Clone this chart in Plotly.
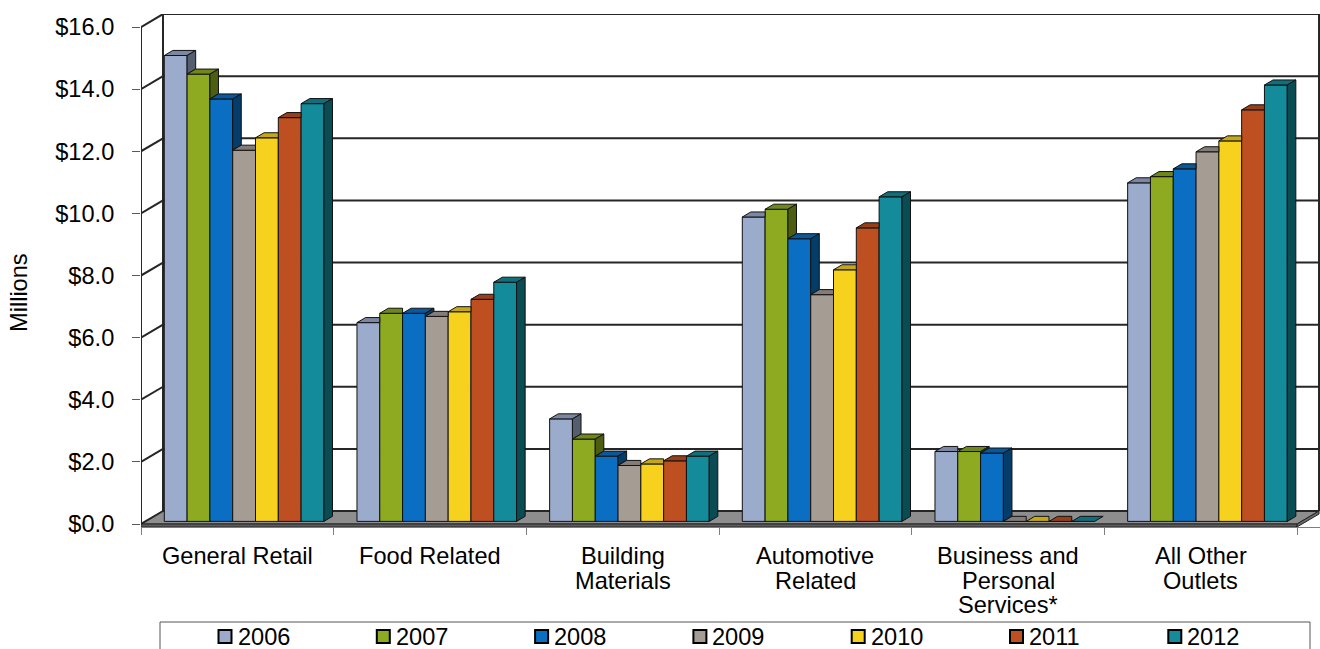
import plotly.graph_objects as go

# ---- data (millions of dollars) ----
label_lines = [
    ["General Retail"],
    ["Food Related"],
    ["Building", "Materials"],
    ["Automotive", "Related"],
    ["Business and", "Personal", "Services*"],
    ["All Other", "Outlets"],
]
years = ["2006", "2007", "2008", "2009", "2010", "2011", "2012"]

sales_2006 = [15.0, 6.4, 3.3, 9.8, 2.25, 10.9]
sales_2007 = [14.4, 6.7, 2.65, 10.05, 2.25, 11.1]
sales_2008 = [13.6, 6.7, 2.1, 9.1, 2.2, 11.35]
sales_2009 = [11.95, 6.6, 1.8, 7.3, 0.0, 11.9]
sales_2010 = [12.35, 6.75, 1.85, 8.1, 0.0, 12.25]
sales_2011 = [13.0, 7.15, 1.95, 9.45, 0.0, 13.25]
sales_2012 = [13.45, 7.7, 2.1, 10.45, 0.0, 14.05]
series = [sales_2006, sales_2007, sales_2008, sales_2009,
          sales_2010, sales_2011, sales_2012]

colors = ["#9BABCB", "#8DAA20", "#0A6FC2", "#A59C94",
          "#F6D21E", "#BD4F20", "#138B9A"]

y_ticks = [0, 2, 4, 6, 8, 10, 12, 14, 16]
y_tick_labels = ["$0.0", "$2.0", "$4.0", "$6.0", "$8.0",
                 "$10.0", "$12.0", "$14.0", "$16.0"]

# ---- page geometry ----
W, H = 1320, 649
L, R, T, B = 141, 0, 14, 122
PW, PH = W - L - R, H - T - B
CAT_PX = 192.67          # pixels per category on the front plane
UNIT_PX = 31.06          # pixels per $1M
ZERO_PX = 524            # pixel row of $0 on the front plane

x_range = [0, PW / CAT_PX]
y_range = [(ZERO_PX - (T + PH)) / UNIT_PX, (ZERO_PX - T) / UNIT_PX]

# oblique depth of the chart box (front plane -> back wall)
DX = 22 / CAT_PX
DY = 13 / UNIT_PX
FLOOR_TH = -y_range[0]

# column layout inside a category
PITCH = 22.8 / CAT_PX
START = 18.9 / CAT_PX
BAR_F = 0.2              # depth of column front face
BAR_D = 0.39             # column depth
SX, BASE = BAR_F * DX, BAR_F * DY
AX, AY = BAR_D * DX, BAR_D * DY
N_CAT = len(label_lines)
TOP_V = y_ticks[-1]


def shade(hex_color, k):
    r, g, b = (int(hex_color[i:i + 2], 16) for i in (1, 3, 5))
    return "#%02x%02x%02x" % (int(r * k), int(g * k), int(b * k))


def px_x(p):
    return (p - L) / PW


def px_y(p):
    return (T + PH - p) / PH


fig = go.Figure()
shapes = []


def line(x0, y0, x1, y1, color="#262626", width=2):
    shapes.append(dict(type="line", x0=x0, y0=y0, x1=x1, y1=y1,
                       xref="x", yref="y", layer="below",
                       line=dict(color=color, width=width)))


def poly(pts, fill, color="#262626", width=1):
    path = "M " + " L ".join(f"{x},{y}" for x, y in pts) + " Z"
    shapes.append(dict(type="path", path=path, xref="x", yref="y",
                       layer="below", fillcolor=fill,
                       line=dict(color=color, width=width)))


# floor (top surface, front edge, right edge)
poly([(0, 0), (N_CAT, 0), (N_CAT + DX, DY), (DX, DY)], "#8e8e8e")
poly([(0, -FLOOR_TH), (N_CAT, -FLOOR_TH), (N_CAT, 0), (0, 0)], "#5c5c5c")
poly([(N_CAT, -FLOOR_TH), (N_CAT, 0), (N_CAT + DX, DY),
      (N_CAT + DX, DY - FLOOR_TH)], "#6a6a6a")

# walls: gridlines on the back wall and the left wall
for v in y_ticks:
    line(0, v, DX, v + DY)
    line(DX, v + DY, N_CAT + DX, v + DY)
line(0, 0, 0, TOP_V, width=2)
line(DX, DY, DX, TOP_V + DY, width=2)
line(N_CAT + DX, DY, N_CAT + DX, TOP_V + DY, width=2)

# columns: front faces as bars, top and side faces as filled outlines
for j, (year, vals, col) in enumerate(zip(years, series, colors)):
    xs = [i + START + SX + (j + 0.5) * PITCH for i in range(N_CAT)]
    fig.add_trace(go.Bar(
        x=xs, y=vals, base=BASE, width=PITCH, name=year,
        marker=dict(color=col, line=dict(color="#111111", width=1)),
        showlegend=False, hoverinfo="skip"))

    top_x, top_y, side_x, side_y = [], [], [], []
    for i, v in enumerate(vals):
        xl = xs[i] - PITCH / 2
        xr = xs[i] + PITCH / 2
        t = BASE + v
        nxt = series[j + 1][i] if j + 1 < len(series) else None
        if nxt is not None and nxt >= v:
            pts = [(xl, t), (xr, t), (xr, t + AY), (xl + AX, t + AY)]
        else:
            pts = [(xl, t), (xr, t), (xr + AX, t + AY), (xl + AX, t + AY)]
        for px_, py_ in pts + [pts[0]]:
            top_x.append(px_)
            top_y.append(py_)
        top_x.append(None)
        top_y.append(None)
        lo = 0 if nxt is None else nxt
        if lo < v:
            sp = [(xr, BASE + lo), (xr, t), (xr + AX, t + AY),
                  (xr + AX, BASE + lo + AY)]
            for px_, py_ in sp + [sp[0]]:
                side_x.append(px_)
                side_y.append(py_)
            side_x.append(None)
            side_y.append(None)

    fig.add_trace(go.Scatter(
        x=top_x, y=top_y, mode="lines", fill="toself",
        fillcolor=shade(col, 0.8), line=dict(color="#111111", width=1),
        showlegend=False, hoverinfo="skip"))
    if side_x:
        fig.add_trace(go.Scatter(
            x=side_x, y=side_y, mode="lines", fill="toself",
            fillcolor=shade(col, 0.55), line=dict(color="#111111", width=1),
            showlegend=False, hoverinfo="skip"))

FONT = "Liberation Sans, Arial, sans-serif"
FS = 23.6
annotations = []

# category labels under the front edge of the floor
for i, lines_ in enumerate(label_lines):
    for k, txt in enumerate(lines_):
        p = 556 + k * 24.5
        annotations.append(dict(
            text=txt, x=i + 0.5, xref="x", y=px_y(p), yref="paper",
            xanchor="center", yanchor="middle", showarrow=False,
            font=dict(family=FONT, size=FS, color="#000000")))

# y-axis title
annotations.append(dict(
    text="Millions", x=px_x(19), xref="paper", y=px_y(293), yref="paper",
    textangle=-90, xanchor="center", yanchor="middle", showarrow=False,
    font=dict(family=FONT, size=FS, color="#000000")))

# legend box with swatches
shapes.append(dict(type="rect", xref="paper", yref="paper",
                   x0=px_x(160), x1=px_x(1310), y0=px_y(622), y1=px_y(660),
                   line=dict(color="#555555", width=1), fillcolor="white",
                   layer="above"))
for j, (year, col) in enumerate(zip(years, colors)):
    sx0 = 218.5 + j * 158.3
    shapes.append(dict(type="rect", xref="paper", yref="paper",
                       x0=px_x(sx0), x1=px_x(sx0 + 13),
                       y0=px_y(643), y1=px_y(630),
                       fillcolor=col, line=dict(color="#000000", width=2),
                       layer="above"))
    annotations.append(dict(
        text=year, x=px_x(sx0 + 17), xref="paper", y=px_y(637), yref="paper",
        xanchor="left", yanchor="middle", showarrow=False,
        font=dict(family=FONT, size=FS, color="#000000")))

fig.update_layout(
    width=W, height=H,
    margin=dict(l=L, r=R, t=T, b=B, pad=0),
    paper_bgcolor="white", plot_bgcolor="white",
    barmode="overlay",
    showlegend=False,
    shapes=shapes,
    annotations=annotations,
    font=dict(family=FONT, size=FS, color="#000000"),
    xaxis=dict(range=x_range, showgrid=False, zeroline=False,
               showline=True, linecolor="#7f7f7f", linewidth=1,
               tickmode="array", tickvals=list(range(N_CAT + 1)),
               showticklabels=False, ticks="outside", ticklen=7,
               tickcolor="#7f7f7f", fixedrange=True),
    yaxis=dict(range=y_range, showgrid=False, zeroline=False,
               showline=False, tickmode="array", tickvals=y_ticks,
               ticktext=y_tick_labels, ticks="outside",
               ticklen=8, tickcolor="#595959", ticklabelstandoff=13,
               tickfont=dict(family=FONT, size=FS, color="#000000"),
               fixedrange=True),
)

fig.write_html("out.html", config={"displayModeBar": False})
